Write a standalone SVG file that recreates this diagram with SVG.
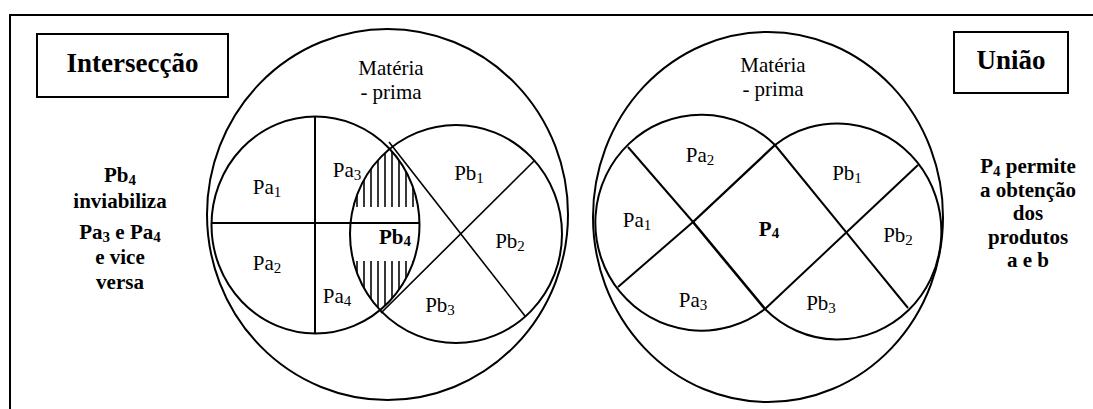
<svg xmlns="http://www.w3.org/2000/svg" width="1093" height="409" viewBox="0 0 1093 409">
<style>
.ln{stroke:#000;stroke-width:2;fill:none}
.thin{stroke:#000;stroke-width:1.6;fill:none}
.hatch{stroke:#222;stroke-width:1.8}
.tx{font-family:"Liberation Serif","Times New Roman",serif;font-size:21px;fill:#000;text-anchor:middle}
.b{font-weight:bold}
.ttl{font-size:27px}
</style>
<defs>
<clipPath id="cPa"><ellipse cx="315.5" cy="225" rx="104" ry="108.5"/></clipPath>
<clipPath id="cPb"><ellipse cx="456" cy="234" rx="106" ry="109"/></clipPath>
</defs>
<rect width="1093" height="409" fill="#fff"/>
<g id="frame">
<polyline class="ln" points="10,409 10,15 1093,15"/>
</g>
<g id="intersecao-title">
<rect class="ln" x="37" y="34" width="191" height="63"/>
<text class="tx b ttl" x="132.5" y="72" font-family="Liberation Serif, serif">Intersecção</text>
</g>
<g id="uniao-title">
<rect class="ln" x="954" y="32" width="114" height="61"/>
<text class="tx b ttl" x="1011" y="69" font-family="Liberation Serif, serif">União</text>
</g>
<g id="left-note" font-family="Liberation Serif, serif">
<text class="tx b" x="120" y="182">Pb<tspan font-size="15" dy="3">4</tspan></text>
<text class="tx b" x="120" y="208">inviabiliza</text>
<text class="tx b" x="120" y="239">Pa<tspan font-size="15" dy="3">3</tspan><tspan dy="-3"> e Pa</tspan><tspan font-size="15" dy="3">4</tspan></text>
<text class="tx b" x="120" y="264">e vice</text>
<text class="tx b" x="120" y="289">versa</text>
</g>
<g id="right-note" font-family="Liberation Serif, serif">
<text class="tx b" x="1028" y="173">P<tspan font-size="15" dy="3">4</tspan><tspan dy="-3"> permite</tspan></text>
<text class="tx b" x="1028" y="197">a obtenção</text>
<text class="tx b" x="1028" y="220">dos</text>
<text class="tx b" x="1028" y="244">produtos</text>
<text class="tx b" x="1028" y="267">a e b</text>
</g>
<g id="intersection-diagram" font-family="Liberation Serif, serif">
<ellipse class="ln" cx="387.5" cy="214.5" rx="180.5" ry="185.5"/>
<g clip-path="url(#cPa)"><g clip-path="url(#cPb)">
<g class="hatch">
<line x1="357" y1="140" x2="357" y2="207"/><line x1="364" y1="140" x2="364" y2="207"/><line x1="371" y1="140" x2="371" y2="207"/><line x1="378" y1="140" x2="378" y2="207"/><line x1="385" y1="140" x2="385" y2="207"/><line x1="392" y1="140" x2="392" y2="207"/><line x1="399" y1="140" x2="399" y2="207"/><line x1="406" y1="140" x2="406" y2="207"/><line x1="413" y1="140" x2="413" y2="207"/>
<line x1="357" y1="261" x2="357" y2="320"/><line x1="364" y1="261" x2="364" y2="320"/><line x1="371" y1="261" x2="371" y2="320"/><line x1="378" y1="261" x2="378" y2="320"/><line x1="385" y1="261" x2="385" y2="320"/><line x1="392" y1="261" x2="392" y2="320"/><line x1="399" y1="261" x2="399" y2="320"/><line x1="406" y1="261" x2="406" y2="320"/><line x1="413" y1="261" x2="413" y2="320"/>
</g>
</g></g>
<ellipse class="ln" cx="315.5" cy="225" rx="104" ry="108.5"/>
<ellipse class="ln" cx="456" cy="234" rx="106" ry="109"/>
<line class="ln" x1="315" y1="117" x2="315" y2="334"/>
<line class="ln" x1="212" y1="223" x2="419" y2="223"/>
<line class="thin" x1="389" y1="142" x2="525" y2="316"/>
<line class="thin" x1="535" y1="160" x2="381" y2="313"/>
<text class="tx" x="391" y="75">Matéria</text>
<text class="tx" x="391" y="99">- prima</text>
<text class="tx" x="267" y="194">Pa<tspan font-size="15" dy="3">1</tspan></text>
<text class="tx" x="347" y="177">Pa<tspan font-size="15" dy="3">3</tspan></text>
<text class="tx" x="469" y="180">Pb<tspan font-size="15" dy="3">1</tspan></text>
<text class="tx" x="267" y="270">Pa<tspan font-size="15" dy="3">2</tspan></text>
<text class="tx" x="337" y="303">Pa<tspan font-size="15" dy="3">4</tspan></text>
<text class="tx b" x="395" y="244">Pb<tspan font-size="15" dy="2">4</tspan></text>
<text class="tx" x="510" y="248">Pb<tspan font-size="15" dy="3">2</tspan></text>
<text class="tx" x="440" y="312">Pb<tspan font-size="15" dy="3">3</tspan></text>
</g>
<g id="union-diagram" font-family="Liberation Serif, serif">
<ellipse class="ln" cx="768" cy="217" rx="175" ry="185"/>
<path class="ln" d="M775,145 A106,108 0 1 0 765,309"/>
<path class="ln" d="M775,145 A104,108 0 1 1 765,309"/>
<line class="ln" x1="628" y1="147" x2="693" y2="222"/>
<line class="ln" x1="693" y1="222" x2="765" y2="309" style="stroke-width:2.6"/>
<line class="ln" x1="618" y1="287" x2="693" y2="222"/>
<line class="ln" x1="693" y1="222" x2="775" y2="145" style="stroke-width:2.4"/>
<line class="ln" x1="775" y1="145" x2="908" y2="308"/>
<line class="ln" x1="918" y1="165" x2="765" y2="309"/>
<text class="tx" x="773" y="72">Matéria</text>
<text class="tx" x="773" y="96">- prima</text>
<text class="tx" x="700" y="162">Pa<tspan font-size="15" dy="3">2</tspan></text>
<text class="tx" x="847" y="180">Pb<tspan font-size="15" dy="3">1</tspan></text>
<text class="tx" x="637" y="227">Pa<tspan font-size="15" dy="3">1</tspan></text>
<text class="tx b" x="769" y="236">P<tspan font-size="15" dy="2">4</tspan></text>
<text class="tx" x="898" y="242">Pb<tspan font-size="15" dy="3">2</tspan></text>
<text class="tx" x="693" y="307">Pa<tspan font-size="15" dy="3">3</tspan></text>
<text class="tx" x="821" y="310">Pb<tspan font-size="15" dy="3">3</tspan></text>
</g>
</svg>
